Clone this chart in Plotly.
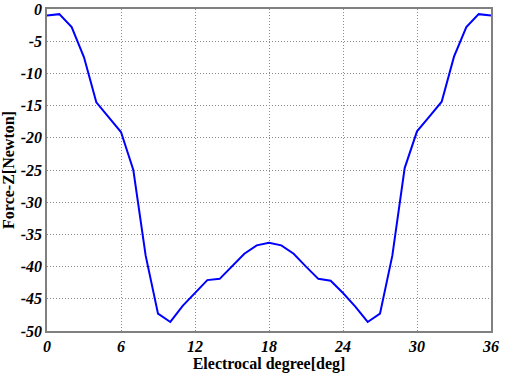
import plotly.graph_objects as go

degrees = list(range(0, 37))
force_z = [-1.0, -0.8, -2.8, -7.5, -14.5, -16.8, -19.1, -25.0, -38.3, -47.3,
           -48.6, -46.1, -44.1, -42.1, -41.9, -40.0, -38.0, -36.7, -36.3, -36.7,
           -38.0, -40.0, -41.9, -42.2, -44.1, -46.2, -48.6, -47.3, -38.3, -24.7,
           -19.0, -16.7, -14.4, -7.4, -2.8, -0.8, -1.0]
x_ticks = [0, 6, 12, 18, 24, 30, 36]
y_ticks = [0, -5, -10, -15, -20, -25, -30, -35, -40, -45, -50]

fig = go.Figure(go.Scatter(x=degrees, y=force_z, mode="lines",
                           line=dict(color="#0000FF", width=2)))

tickfont = dict(family="Liberation Serif, serif", size=16, color="black")
titlefont = dict(family="Liberation Serif, serif", size=16, color="black")

def fmt(v):
    return "<b><i>%s</i></b>" % v

grid = dict(showgrid=True, gridcolor="#8c8c8c", griddash="1px,2px", gridwidth=1,
            showline=True, linecolor="#808080", linewidth=1.5, mirror=True,
            zeroline=False, ticks="", tickfont=tickfont, automargin=False,
            ticklabeloverflow="allow")

fig.update_layout(
    width=508, height=374,
    margin=dict(l=47, r=17, t=9, b=43),
    paper_bgcolor="white", plot_bgcolor="white",
    showlegend=False,
    xaxis=dict(range=[0, 36], tickvals=x_ticks, ticktext=[fmt(v) for v in x_ticks],
               title=dict(text="<b>Electrocal degree[deg]</b>", font=titlefont, standoff=0),
               **grid),
    yaxis=dict(range=[-50, 0], tickvals=y_ticks, ticktext=[fmt(v) for v in y_ticks],
               title=dict(text="<b>Force-Z[Newton]</b>", font=titlefont, standoff=3),
               **grid),
)

fig.write_html("out.html", config={"displayModeBar": False},
               post_script="document.body.style.margin='0';document.body.style.overflow='hidden';")
